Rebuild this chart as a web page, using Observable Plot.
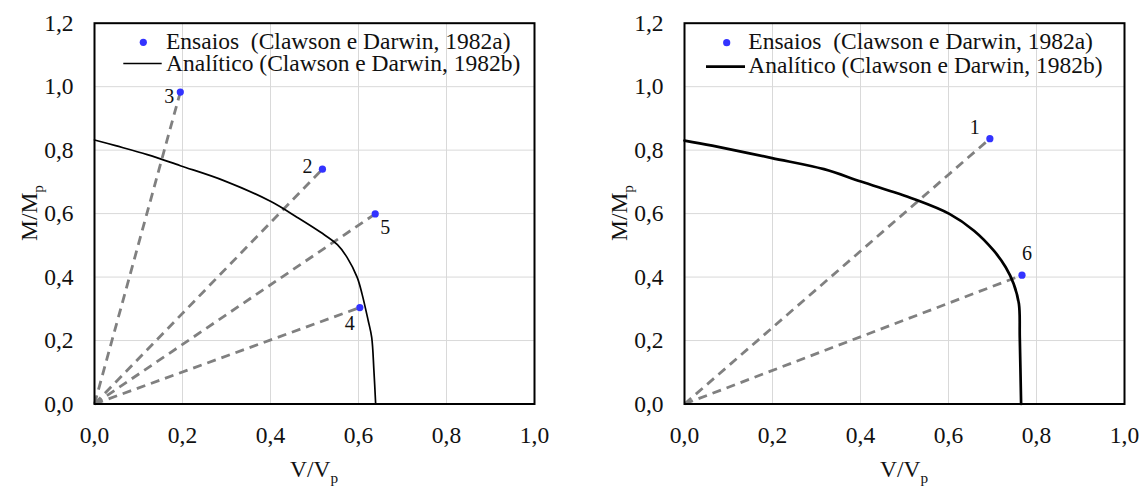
<!DOCTYPE html>
<html><head><meta charset="utf-8">
<script src="https://cdn.jsdelivr.net/npm/d3@7"></script>
<script src="https://cdn.jsdelivr.net/npm/@observablehq/plot@0.6"></script>
<style>
body{margin:0;background:#fff;}
#wrap{position:relative;width:1147px;height:488px;font-family:"Liberation Serif","Times New Roman",serif;}
#wrap svg{position:absolute;top:0;font-family:"Liberation Serif","Times New Roman",serif !important;}
</style></head><body><div id="wrap"></div>
<script>
// ---- data ----
const ticksX = [0, 0.2, 0.4, 0.6, 0.8, 1.0];
const ticksY = [0, 0.2, 0.4, 0.6, 0.8, 1.0, 1.2];
const tickLabelsX = ["0,0", "0,2", "0,4", "0,6", "0,8", "1,0"];
const tickLabelsY = ["0,0", "0,2", "0,4", "0,6", "0,8", "1,0", "1,2"];

const leftTestIds = ["3", "2", "5", "4"];
const leftTestV = [0.195, 0.518, 0.638, 0.603];
const leftTestM = [0.983, 0.740, 0.599, 0.304];
const leftCurveV = [0.000, 0.048, 0.120, 0.195, 0.294, 0.401, 0.461, 0.514, 0.552, 0.574, 0.597, 0.608, 0.622, 0.630, 0.635, 0.639];
const leftCurveM = [0.832, 0.814, 0.786, 0.751, 0.704, 0.638, 0.588, 0.541, 0.502, 0.462, 0.399, 0.347, 0.263, 0.210, 0.106, 0.000];

const rightTestIds = ["1", "6"];
const rightTestV = [0.694, 0.767];
const rightTestM = [0.836, 0.406];
const rightCurveV = [0.000, 0.063, 0.199, 0.317, 0.401, 0.521, 0.602, 0.658, 0.703, 0.730, 0.748, 0.760, 0.762, 0.765];
const rightCurveM = [0.830, 0.814, 0.775, 0.740, 0.701, 0.646, 0.599, 0.546, 0.483, 0.431, 0.379, 0.316, 0.210, 0.000];

const legendTests = "Ensaios  (Clawson e Darwin, 1982a)";
const legendModel = "Analítico (Clawson e Darwin, 1982b)";

// ---- layout (not data) ----
const labelOffsets = {"3": [-11, 5], "2": [-15, -3], "5": [10, 14], "4": [-10, 16], "1": [-15, -11], "6": [5, -22]};
const FONT = '"Liberation Serif","Times New Roman",serif';
const FS = 23.5;

function panel(ids, tv, tm, cv, cm, curveWidth, legendCfg) {
  const tests = ids.map((id, i) => ({id, v: tv[i], m: tm[i]}));
  const curve = cv.map((v, i) => ({v, m: cm[i]}));
  const labelMarks = tests.map(t => Plot.text([t], {x: "v", y: "m", text: "id", fontSize: 20, fill: "#111",
    dx: labelOffsets[t.id][0], dy: labelOffsets[t.id][1]}));
  const svg = Plot.plot({
    width: 560, height: 488,
    marginLeft: 94, marginRight: 26, marginTop: 22.7, marginBottom: 84.5,
    style: {fontFamily: FONT, fontSize: FS + "px", background: "transparent", overflow: "visible"},
    x: {domain: [0, 1]},
    y: {domain: [0, 1.2]},
    marks: [
      Plot.ruleX(ticksX.slice(1, -1), {stroke: "#d9d9d9", strokeWidth: 1}),
      Plot.ruleY(ticksY.slice(1, -1), {stroke: "#d9d9d9", strokeWidth: 1}),
      Plot.link(tests, {x1: d => 0, y1: d => 0, x2: "v", y2: "m", stroke: "#808080", strokeWidth: 2.8, strokeDasharray: "9,6"}),
      Plot.line(curve, {x: "v", y: "m", stroke: "black", strokeWidth: curveWidth, curve: "catmull-rom"}),
      Plot.dot(tests, {x: "v", y: "m", r: 3.6, fill: "#3333ff", stroke: "none"}),
      ...labelMarks,
      Plot.axisX(ticksX, {tickSize: 0, tickPadding: 22, label: null, fill: "#111", fontSize: FS,
        tickFormat: d => tickLabelsX[ticksX.indexOf(d)]}),
      Plot.axisY(ticksY, {tickSize: 0, tickPadding: 21, label: null, fill: "#111", fontSize: FS,
        tickFormat: d => tickLabelsY[ticksY.indexOf(d)]}),
      Plot.frame({stroke: "black", strokeWidth: 2})
    ]
  });
  svg.setAttribute("font-family", FONT);
  const s = d3.select(svg);
  // axis titles
  const xt = s.append("text").attr("x", 314).attr("y", 477).attr("text-anchor", "middle")
    .attr("font-size", FS).attr("fill", "#111");
  xt.append("tspan").text("V/V");
  xt.append("tspan").attr("font-size", FS * 0.65).attr("dy", 6).text("p");
  const yt = s.append("text").attr("transform", "translate(37,213) rotate(-90)").attr("text-anchor", "middle")
    .attr("font-size", FS).attr("fill", "#111");
  yt.append("tspan").text("M/M");
  yt.append("tspan").attr("font-size", FS * 0.65).attr("dy", 6).text("p");
  // legend
  const L = legendCfg;
  s.append("circle").attr("cx", L.dotX).attr("cy", L.dotY).attr("r", 3.6).attr("fill", "#3333ff");
  s.append("text").attr("x", L.textX).attr("y", L.base1).attr("font-size", FS).attr("fill", "#111")
    .attr("text-anchor", "start").style("white-space", "pre").text(legendTests);
  s.append("line").attr("x1", L.lineX1).attr("x2", L.lineX2).attr("y1", L.lineY).attr("y2", L.lineY)
    .attr("stroke", "black").attr("stroke-width", curveWidth);
  s.append("text").attr("x", L.textX).attr("y", L.base2).attr("font-size", FS).attr("fill", "#111")
    .attr("text-anchor", "start").text(legendModel);
  return svg;
}

const wrap = document.getElementById("wrap");
const left = panel(leftTestIds, leftTestV, leftTestM, leftCurveV, leftCurveM, 1.7,
  {dotX: 143.3, dotY: 42.3, textX: 166, base1: 48.5, base2: 71, lineX1: 123.3, lineX2: 161.7, lineY: 63.5});
left.style.left = "0px";
const right = panel(rightTestIds, rightTestV, rightTestM, rightCurveV, rightCurveM, 2.7,
  {dotX: 136.7, dotY: 42.7, textX: 158.3, base1: 49.3, base2: 73.3, lineX1: 116, lineX2: 155, lineY: 66.7});
right.style.left = "590px";
wrap.appendChild(left);
wrap.appendChild(right);
</script>
</body></html>
